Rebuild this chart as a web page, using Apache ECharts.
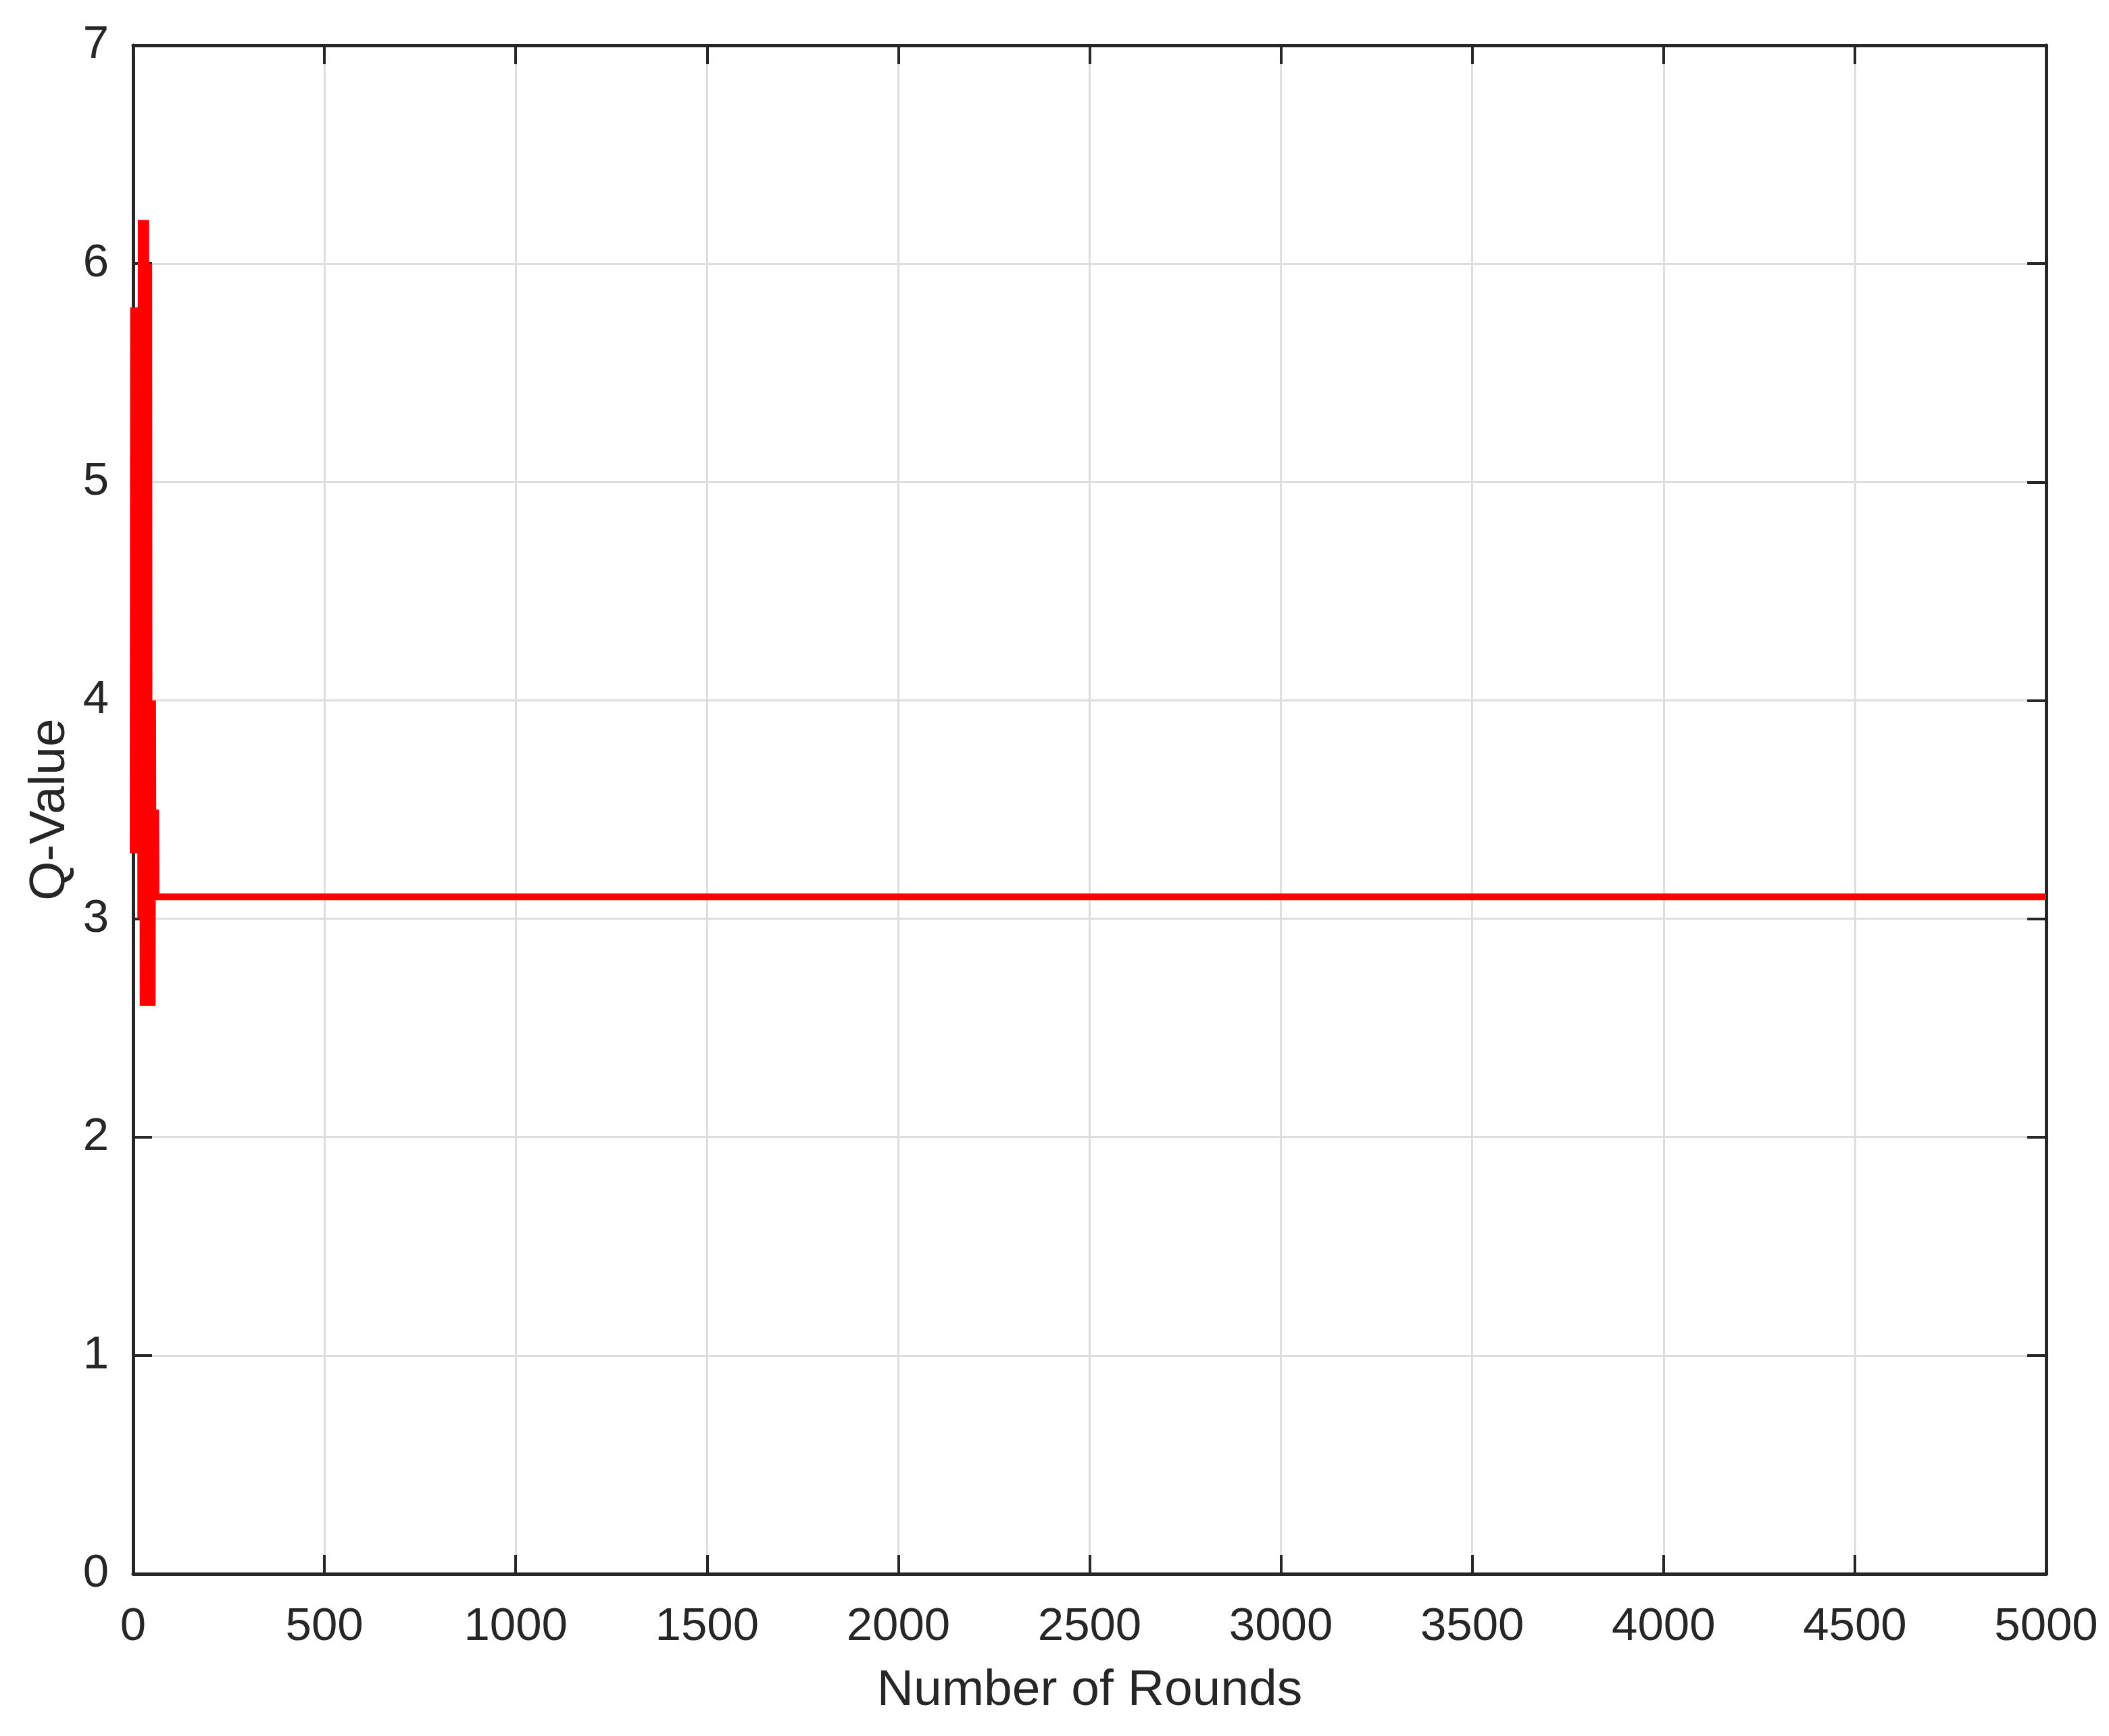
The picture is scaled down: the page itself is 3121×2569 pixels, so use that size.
<!DOCTYPE html>
<html>
<head>
<meta charset="utf-8">
<title>Q-Value vs Number of Rounds</title>
<script src="https://cdn.jsdelivr.net/npm/echarts@6/dist/echarts.min.js"></script>
<style>
  html, body { margin: 0; padding: 0; background: #fff; }
  #chart { width: 3121px; height: 2569px; }
</style>
</head>
<body>
<div id="chart"></div>
<script>
// data: early oscillation, then flat at 3.1
const rounds = [
  0, 1, 2, 3, 4, 5, 6, 7, 8, 9,
  10, 11, 12, 13, 14, 15, 16, 17, 18, 19,
  20, 21, 22, 23, 24, 25, 26, 27, 28, 29,
  30, 31, 32, 33, 34, 35, 36, 37, 38, 39,
  40, 41, 42, 43, 44, 45, 46, 47, 48, 49,
  50, 51, 52, 53, 54, 55, 56, 57, 58, 59,
  60, 5000
]
const qValues = [
  3.3, 5.8, 3.3, 5.8, 3.3, 5.8, 3.3, 5.8, 3.3, 5.8,
  3.3, 5.8, 3.3, 5.8, 3.3, 5.8, 3.3, 5.8, 3.3, 5.8,
  3.0, 6.2, 3.0, 6.2, 3.0, 6.2, 2.6, 6.2, 2.6, 6.2,
  2.6, 6.2, 2.6, 6.2, 2.6, 6.0, 2.6, 6.0, 2.6, 6.0,
  2.6, 6.0, 2.6, 4.0, 2.6, 4.0, 2.6, 4.0, 2.6, 4.0,
  2.6, 4.0, 3.2, 3.5, 3.2, 3.5, 3.2, 3.5, 3.2, 3.5,
  3.1, 3.1
]
const xName = 'Number of Rounds'
const yName = 'Q-Value'

const axisColor = '#262626'
const gridColor = '#dedede'
const fontFamily = '"Liberation Sans", Arial, Helvetica, sans-serif'

const chart = echarts.init(document.getElementById('chart'))

const baseAxisLine = { show: true, onZero: false, lineStyle: { color: axisColor, width: 5 } }
const baseTick = { show: true, inside: true, length: 28, lineStyle: { color: axisColor, width: 4 } }

const option = {
  animation: false,
  backgroundColor: '#fff',
  grid: {
    left: 197,
    right: 93,
    top: 67,
    bottom: 240,
    containLabel: false
  },
  xAxis: [
    {
      type: 'value',
      position: 'bottom',
      min: 0,
      max: 5000,
      interval: 500,
      name: xName,
      nameLocation: 'middle',
      nameGap: 136,
      nameTextStyle: { color: axisColor, fontSize: 75, fontFamily: fontFamily },
      axisLine: baseAxisLine,
      axisTick: baseTick,
      axisLabel: {
        color: axisColor,
        fontSize: 69,
        fontFamily: fontFamily,
        margin: 44,
        formatter: value => String(value)
      },
      splitLine: { show: true, lineStyle: { color: gridColor, width: 3 } }
    },
    {
      type: 'value',
      position: 'top',
      min: 0,
      max: 5000,
      interval: 500,
      axisLine: baseAxisLine,
      axisTick: baseTick,
      axisLabel: { show: false },
      splitLine: { show: false }
    }
  ],
  yAxis: [
    {
      type: 'value',
      position: 'left',
      min: 0,
      max: 7,
      interval: 1,
      name: yName,
      nameLocation: 'middle',
      nameGap: 74,
      nameTextStyle: { color: axisColor, fontSize: 75, fontFamily: fontFamily },
      axisLine: baseAxisLine,
      axisTick: baseTick,
      axisLabel: { color: axisColor, fontSize: 69, fontFamily: fontFamily, margin: 36 },
      splitLine: { show: true, lineStyle: { color: gridColor, width: 3 } }
    },
    {
      type: 'value',
      position: 'right',
      min: 0,
      max: 7,
      interval: 1,
      axisLine: baseAxisLine,
      axisTick: baseTick,
      axisLabel: { show: false },
      splitLine: { show: false }
    }
  ],
  series: [
    {
      name: yName,
      type: 'line',
      xAxisIndex: 0,
      yAxisIndex: 0,
      data: rounds.map((r, i) => [r, qValues[i]]),
      showSymbol: false,
      clip: false,
      z: 5,
      lineStyle: { color: '#ff0000', width: 10, join: 'bevel' }
    }
  ]
}

chart.setOption(option)

window.addEventListener('resize', () => {
  chart.resize()
})
</script>
</body>
</html>
